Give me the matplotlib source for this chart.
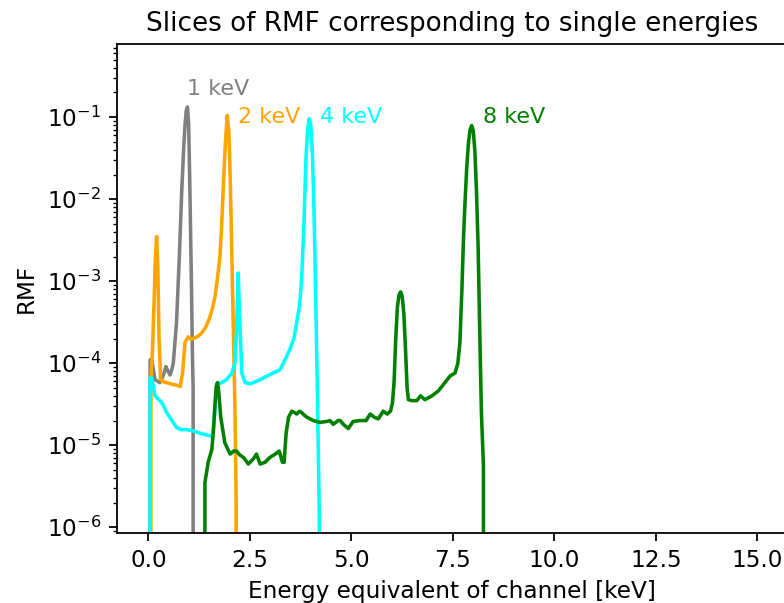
import numpy as np
import matplotlib
matplotlib.use("Agg")
import matplotlib.pyplot as plt

# RMF slices for a few monoenergetic inputs (energy in keV, response per channel)
e_1kev = [0.00, 0.04, 0.08, 0.16, 0.28, 0.37, 0.43, 0.48, 0.53, 0.58, 0.61, 0.69, 0.76,
          0.82, 0.87, 0.90, 0.93, 0.96, 0.99, 1.02, 1.06, 1.08, 1.10, 1.11]
r_1kev = [0, 1.1e-4, 1.1e-4, 6.3e-5, 5.8e-5, 7.2e-5, 9.1e-5, 8.0e-5, 7.2e-5, 8.5e-5, 1.0e-4,
          3.1e-4, 2.0e-3, 1.3e-2, 4.5e-2, 8.0e-2, 1.2e-1, 1.33e-1, 8.0e-2, 1.3e-2, 8.0e-4,
          1.5e-4, 4.8e-5, 0]

e_2kev = [0.00, 0.06, 0.10, 0.14, 0.17, 0.20, 0.23, 0.26, 0.30, 0.38, 0.45, 0.61, 0.70,
          0.78, 0.84, 0.90, 0.98, 1.05, 1.10, 1.20, 1.30, 1.40, 1.50, 1.58, 1.64, 1.70,
          1.76, 1.80, 1.84, 1.89, 1.94, 1.98, 2.02, 2.07, 2.13, 2.16, 2.17]
r_2kev = [0, 6.3e-5, 1.5e-4, 6.0e-4, 2.0e-3, 3.5e-3, 1.5e-3, 2.0e-4, 6.3e-5, 5.9e-5, 5.8e-5,
          5.5e-5, 5.4e-5, 5.2e-5, 7.6e-5, 1.8e-4, 2.1e-4, 1.95e-4, 2.0e-4, 2.1e-4, 2.3e-4,
          2.7e-4, 3.5e-4, 4.8e-4, 6.5e-4, 1.1e-3, 2.0e-3, 4.5e-3, 1.3e-2, 4.5e-2, 1.05e-1,
          6.5e-2, 1.3e-2, 8.0e-4, 2.8e-5, 2.0e-6, 0]

e_4kev = [0.00, 0.04, 0.08, 0.16, 0.33, 0.45, 0.55, 0.69, 0.80, 0.94, 1.10, 1.27, 1.40,
          1.51, 1.58, 1.63, 1.68, 1.80, 1.92, 2.05, 2.13, 2.17, 2.21, 2.25, 2.30, 2.38,
          2.50, 2.62, 2.75, 2.90, 3.07, 3.24, 3.40, 3.49, 3.58, 3.65, 3.72, 3.77, 3.83,
          3.88, 3.92, 3.96, 4.00, 4.04, 4.07, 4.10, 4.13, 4.16, 4.19, 4.21, 4.22]
r_4kev = [0, 6.6e-5, 6.6e-5, 4.0e-5, 3.3e-5, 2.5e-5, 2.1e-5, 1.65e-5, 1.55e-5, 1.55e-5,
          1.5e-5, 1.4e-5, 1.35e-5, 1.3e-5, 1.3e-5, 2.5e-5, 5.5e-5, 5.8e-5, 6.3e-5, 7.5e-5,
          1.0e-4, 2.5e-4, 1.26e-3, 3.1e-4, 7.6e-5, 5.8e-5, 5.6e-5, 5.9e-5, 6.3e-5, 6.9e-5,
          7.6e-5, 8.3e-5, 1.2e-4, 1.5e-4, 2.0e-4, 3.1e-4, 5.0e-4, 1.0e-3, 5.1e-3, 3.3e-2,
          7.0e-2, 9.6e-2, 8.0e-2, 3.3e-2, 1.0e-2, 2.0e-3, 3.0e-4, 4.8e-5, 5.0e-6, 1.1e-6, 0]

e_8kev = [1.35, 1.39, 1.47, 1.56, 1.60, 1.64, 1.67, 1.70, 1.73, 1.78, 1.88, 2.01, 2.10,
          2.17, 2.25, 2.34, 2.46, 2.58, 2.66, 2.75, 2.87, 2.99, 3.12, 3.22, 3.30, 3.34,
          3.39, 3.45, 3.53, 3.60, 3.65, 3.72, 3.77, 3.85, 3.90, 4.06, 4.22, 4.39, 4.47,
          4.55, 4.67, 4.72, 4.80, 4.92, 5.04, 5.21, 5.36, 5.46, 5.56, 5.66, 5.78, 5.88,
          5.96, 6.01, 6.05, 6.09, 6.13, 6.17, 6.21, 6.25, 6.29, 6.33, 6.37, 6.40, 6.48,
          6.61, 6.70, 6.81, 6.98, 7.14, 7.30, 7.43, 7.55, 7.62, 7.67, 7.72, 7.76, 7.80,
          7.84, 7.88, 7.92, 7.96, 8.00, 8.04, 8.08, 8.12, 8.16, 8.20, 8.25, 8.29]
r_8kev = [0, 3.5e-6, 6.2e-6, 8.9e-6, 1.5e-5, 3.3e-5, 5.2e-5, 5.8e-5, 4.5e-5, 2.2e-5,
          1.07e-5, 7.8e-6, 8.5e-6, 8.5e-6, 7.6e-6, 7.1e-6, 5.9e-6, 6.8e-6, 7.8e-6, 5.9e-6,
          6.2e-6, 7.1e-6, 7.8e-6, 8.5e-6, 6.2e-6, 6.2e-6, 1.4e-5, 2.2e-5, 2.6e-5, 2.5e-5,
          2.4e-5, 2.6e-5, 2.5e-5, 2.3e-5, 2.2e-5, 2.0e-5, 1.9e-5, 1.95e-5, 2.0e-5, 1.8e-5,
          2.0e-5, 2.0e-5, 1.8e-5, 1.6e-5, 1.95e-5, 2.0e-5, 2.0e-5, 2.4e-5, 2.2e-5, 2.1e-5,
          2.6e-5, 2.4e-5, 2.6e-5, 3.3e-5, 6.0e-5, 2.0e-4, 4.8e-4, 6.8e-4, 7.4e-4, 6.5e-4,
          4.0e-4, 1.5e-4, 5.0e-5, 3.6e-5, 3.5e-5, 3.5e-5, 4.0e-5, 3.6e-5, 4.0e-5, 4.6e-5,
          5.8e-5, 7.0e-5, 7.6e-5, 1.0e-4, 1.8e-4, 8.0e-4, 3.5e-3, 1.0e-2, 2.5e-2, 4.8e-2,
          7.0e-2, 7.9e-2, 6.8e-2, 3.8e-2, 1.2e-2, 2.5e-3, 2.3e-4, 2.5e-5, 5.6e-6, 0]

slices = [
    (e_1kev, r_1kev, "grey", "1 keV", (0.95, 0.22)),
    (e_2kev, r_2kev, "orange", "2 keV", (2.20, 0.10)),
    (e_4kev, r_4kev, "cyan", "4 keV", (4.22, 0.10)),
    (e_8kev, r_8kev, "green", "8 keV", (8.23, 0.10)),
]

dpi = 160
fig = plt.figure(figsize=(784 / dpi, 603 / dpi), dpi=dpi)
ax = fig.add_axes([0.149, 0.116, 0.855, 0.811])

for en, rmf, col, lab, pos in slices:
    ax.plot(en, rmf, color=col, lw=1.6)
    ax.text(pos[0], pos[1], lab, color=col, fontsize=10, ha="left", va="center")

ax.set_yscale("log", nonpositive="clip")
ax.set_xlim(-0.78, 15.73)
ax.set_ylim(8.5e-7, 0.78)
ax.set_xticks([0.0, 2.5, 5.0, 7.5, 10.0, 12.5, 15.0])
ax.tick_params(labelsize=10.4)
ax.set_xlabel("Energy equivalent of channel [keV]", fontsize=10.4)
ax.set_ylabel("RMF", fontsize=10.4)
ax.set_title("Slices of RMF corresponding to single energies", fontsize=11.8)

fig.savefig("out.png", dpi=dpi)
